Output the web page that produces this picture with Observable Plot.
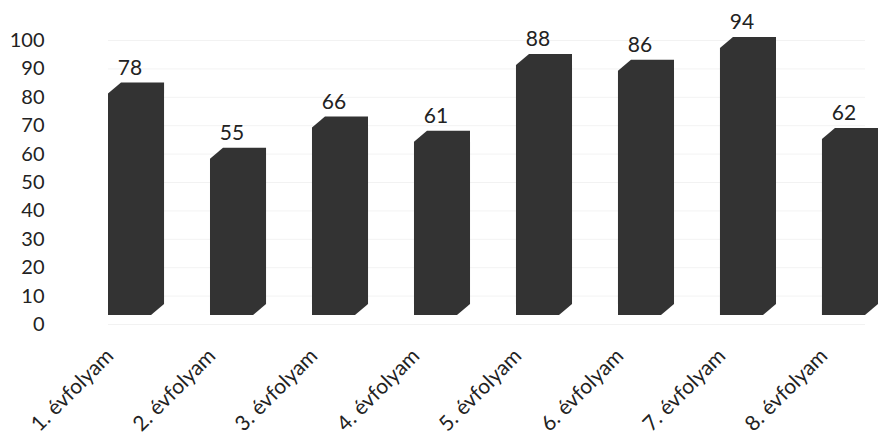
<!DOCTYPE html>
<html>
<head>
<meta charset="utf-8">
<script src="https://cdn.jsdelivr.net/npm/d3@7"></script>
<script src="https://cdn.jsdelivr.net/npm/@observablehq/plot@0.6"></script>
<style>
  html, body { margin: 0; padding: 0; background: #fff; }
  #chart { width: 888px; height: 434px; }
</style>
</head>
<body>
<div id="chart"></div>
<script>
const categories = ["1. évfolyam", "2. évfolyam", "3. évfolyam", "4. évfolyam", "5. évfolyam", "6. évfolyam", "7. évfolyam", "8. évfolyam"];
const values = [78, 55, 66, 61, 88, 86, 94, 62];
const yTicks = [0, 10, 20, 30, 40, 50, 60, 70, 80, 90, 100];

const data = categories.map((c, i) => ({category: c, value: values[i]}));

const depthX = 13, depthY = 11;

function bevel(index, scales, vals, dimensions, context, next) {
  const g = next(index, scales, vals, dimensions, context);
  g.querySelectorAll("rect").forEach(r => {
    const x = +r.getAttribute("x"), y = +r.getAttribute("y");
    const w = +r.getAttribute("width"), h = +r.getAttribute("height");
    const p = document.createElementNS("http://www.w3.org/2000/svg", "path");
    p.setAttribute("d",
      `M${x},${y}L${x + depthX},${y - depthY}H${x + w + depthX}V${y + h - depthY}L${x + w},${y + h}H${x}Z`);
    const f = r.getAttribute("fill");
    if (f) p.setAttribute("fill", f);
    r.replaceWith(p);
  });
  return g;
}

const font = "Lato, 'Open Sans', sans-serif";

const chart = Plot.plot({
  width: 888,
  height: 434,
  marginLeft: 108,
  marginRight: 23,
  marginTop: 40,
  marginBottom: 110,
  style: {fontFamily: font, fontSize: "20px", color: "#222", background: "#fff"},
  x: {domain: categories, paddingInner: 0.578, paddingOuter: 0, round: false, label: null},
  y: {domain: [0, 100], label: null},
  marks: [
    Plot.ruleY(yTicks, {stroke: "#000", strokeOpacity: 0.05}),
    Plot.axisY({ticks: yTicks, tickSize: 0, tickPadding: 64, label: null, fontSize: 20}),
    Plot.axisX({tickSize: 0, tickRotate: -45, tickPadding: 28, dx: -20, label: null, fontSize: 21}),
    Plot.barY(data, {x: "category", y: "value", fill: "#333333", dy: -9, render: bevel}),
    Plot.text(data, {x: "category", y: "value", text: d => String(d.value), dy: -35, fill: "#222", fontSize: 21})
  ]
});
document.getElementById("chart").appendChild(chart);
</script>
</body>
</html>
